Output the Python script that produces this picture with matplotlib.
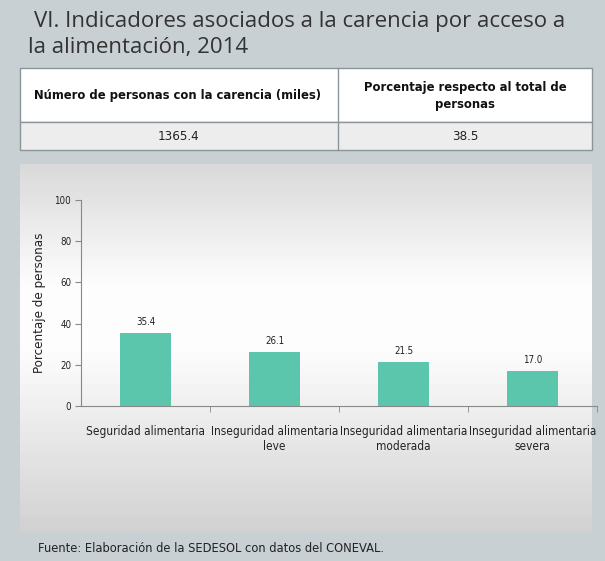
import numpy as np
import matplotlib.pyplot as plt
from matplotlib.patches import Rectangle

# Datos
categorias = ['Seguridad alimentaria', 'Inseguridad alimentaria\nleve',
              'Inseguridad alimentaria\nmoderada', 'Inseguridad alimentaria\nsevera']
porcentajes = [35.4, 26.1, 21.5, 17.0]
encabezados = ['Número de personas con la carencia (miles)',
               'Porcentaje respecto al total de\npersonas']
valores_tabla = ['1365.4', '38.5']

estilo = dict(family=['DejaVu Sans'], stretch='condensed')

W, H = 605, 561
fig = plt.figure(figsize=(W / 100, H / 100), dpi=100)
fig.patch.set_facecolor('#c9d0d3')

def fx(px):
    return px / W

def fy(py):
    return 1 - py / H

# Titulo
for px, py, linea in [(34, 22, 'VI. Indicadores asociados a la carencia por acceso a'),
                      (28, 47, 'la alimentación, 2014')]:
    fig.text(fx(px), fy(py), linea, fontsize=16, color='#333333', va='center',
             family=['Open Sans', 'DejaVu Sans'])

# Tabla
borde = '#8a9499'
fig.patches.append(Rectangle((fx(20), fy(122)), fx(572), 54 / H, transform=fig.transFigure,
                             facecolor='white', edgecolor=borde, lw=1))
fig.patches.append(Rectangle((fx(20), fy(150)), fx(572), 28 / H, transform=fig.transFigure,
                             facecolor='#ededed', edgecolor=borde, lw=1))
fig.lines.append(plt.Line2D([fx(338), fx(338)], [fy(68), fy(150)], transform=fig.transFigure,
                            color=borde, lw=1))
for xc, enc, val in zip([178, 465], encabezados, valores_tabla):
    fig.text(fx(xc), fy(96), enc, ha='center', va='center', fontsize=9.3,
             fontweight='bold', color='#111111', linespacing=1.4, **estilo)
    fig.text(fx(xc), fy(137), val, ha='center', va='center', fontsize=9.5,
             color='#222222', **estilo)

# Panel con degradado
bg = fig.add_axes([fx(20), fy(532), fx(572), 368 / H])
grad = np.concatenate([np.linspace(0.85, 0.99, 40), np.linspace(0.99, 0.99, 20),
                       np.linspace(0.99, 0.82, 60)])
bg.imshow(grad[:, None], aspect='auto', cmap='gray', vmin=0, vmax=1,
          extent=[0, 1, 0, 1])
bg.set_axis_off()

# Grafica de barras
ax = fig.add_axes([fx(81), fy(406), fx(516), 206 / H])
ax.patch.set_alpha(0)
x = np.arange(len(categorias))
ax.bar(x, porcentajes, width=0.4, color='#5bc6ab')
for xi, v in zip(x, porcentajes):
    ax.text(xi, v + 3, f'{v:.1f}', ha='center', va='bottom', fontsize=7,
            color='#222222', **estilo)
ax.set_xlim(-0.5, len(categorias) - 0.5)
ax.set_ylim(0, 100)
ax.set_yticks([0, 20, 40, 60, 80, 100])
ax.set_xticks(x)
ax.set_xticklabels(categorias, fontsize=8.5, color='#222222', **estilo)
ax.set_xticks(np.arange(len(categorias)) + 0.5, minor=True)
ax.tick_params(axis='x', which='major', length=0, pad=14)
ax.tick_params(axis='x', which='minor', length=4, color='#888888', direction='out')
ax.tick_params(axis='y', length=4, color='#888888', labelsize=7, labelcolor='#222222',
               pad=3)
for lab in ax.get_yticklabels():
    lab.set_family(['DejaVu Sans'])
    lab.set_stretch('condensed')
for s in ['top', 'right']:
    ax.spines[s].set_visible(False)
for s in ['left', 'bottom']:
    ax.spines[s].set_color('#888888')
ax.set_ylabel('Porcentaje de personas', fontsize=9.5, color='#222222',
              labelpad=6, **estilo)

# Fuente
fig.text(fx(38), fy(549), 'Fuente: Elaboración de la SEDESOL con datos del CONEVAL.',
         fontsize=8.3, color='#222222', va='center', family=['DejaVu Sans'])

fig.savefig('out.png', dpi=100, facecolor=fig.get_facecolor())
